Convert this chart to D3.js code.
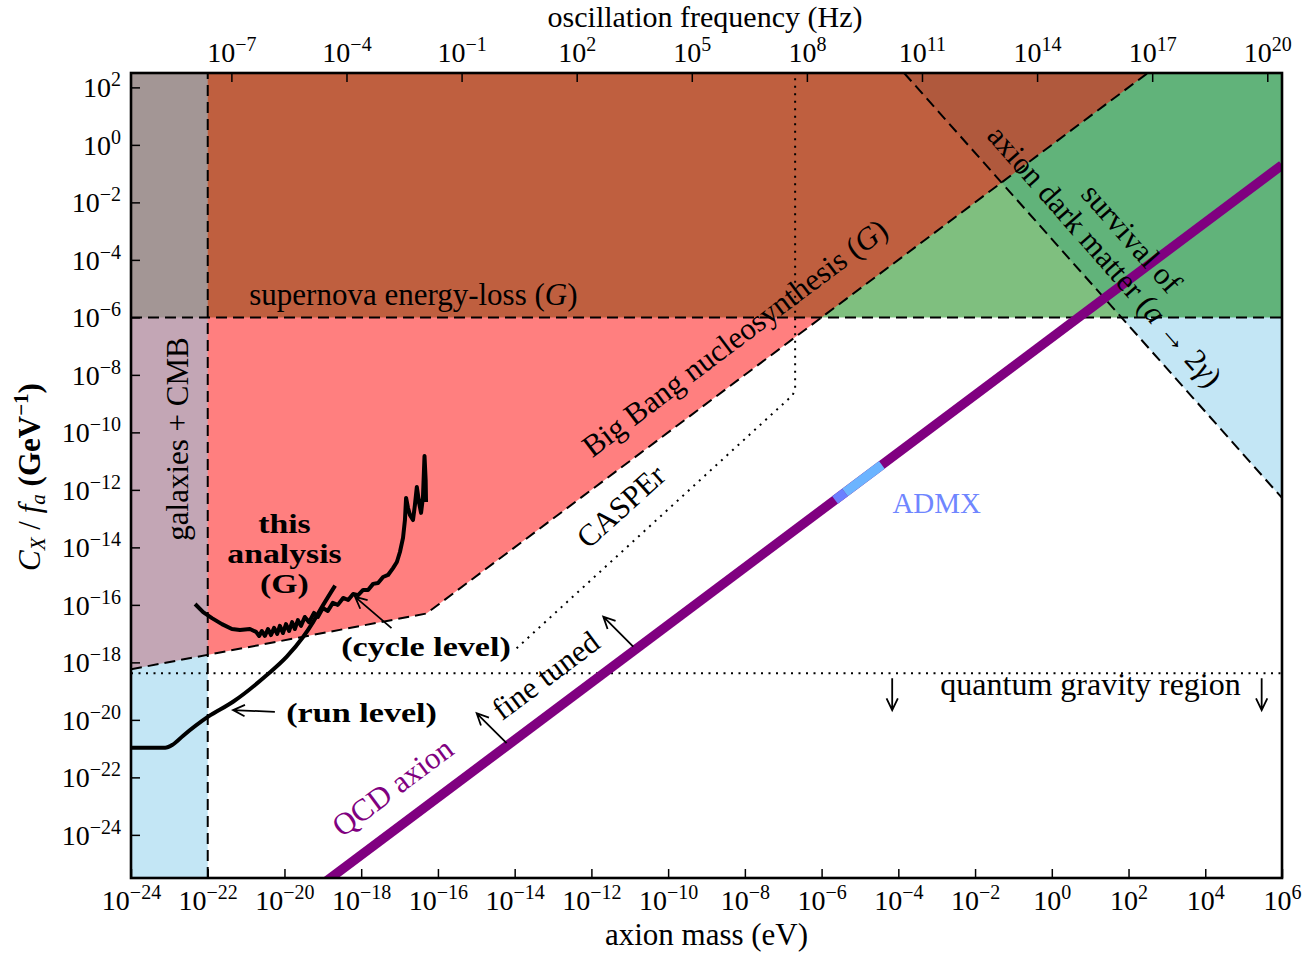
<!DOCTYPE html>
<html>
<head>
<meta charset="utf-8">
<script src="https://cdn.jsdelivr.net/npm/d3@7"></script>
<style>
  body { margin: 0; background: #fff; }
  text { font-family: "Liberation Serif", "Times New Roman", serif; fill: #000; }
</style>
</head>
<body>
<svg id="chart" width="1305" height="953"></svg>
<script>
// ---- axis ranges and ticks (all values are log10 exponents) ----
const massDomain = [-24, 6];          // axion mass, eV
const couplingDomain = [-25.5, 2.5];  // C_X / f_a, GeV^-1
const massTicks = d3.range(-24, 7, 2);
const couplingTicks = d3.range(2, -25, -2);
const freqTicks = d3.range(-7, 21, 3); // oscillation frequency, Hz
const logHzPerEv = 14.3835;            // log10(e/h)

// ---- excluded regions (polygons in log10 mass, log10 coupling) ----
const galaxiesCMB = [[-24, -25.5], [-22, -25.5], [-22, 2.5], [-24, 2.5]];
const supernovaRegion = [[-24, -6], [6, -6], [6, 2.5], [-24, 2.5]];
const bbnEdge = [[-24, -18.24], [-16.3, -16.3], [2.5, 2.5]];
const dmDecayEdge = [[-3.85, 2.5], [6, -12.28]];

// ---- reference lines ----
const supernovaBound = -6;
const galaxiesBound = -22;
const quantumGravity = -18.38;
const casperReach = [[-13.95, -17.51], [-6.75, -8.7], [-6.69, -8.45], [-6.69, 2.5]];
const qcdAxion = [[-24, -30.7], [6, -0.7]];
const admxExcluded = [-5.65, -5.39];
const admxProjected = [-5.39, -4.43];

// ---- limits from this analysis ----
const runLevel = [
  [-24, -20.97], [-23.11, -20.97], [-22.91, -20.86], [-22.64, -20.55], [-21.99, -19.89],
  [-21.34, -19.37], [-20.46, -18.44], [-19.94, -17.80], [-19.51, -17.11], [-19.25, -16.59],
  [-18.99, -16.00], [-18.68, -15.33]
];
const cycleLevel = [
  [-22.33, -15.97], [-22.12, -16.25], [-21.89, -16.46], [-21.63, -16.67], [-21.37, -16.84],
  [-21.16, -16.87], [-20.90, -16.84], [-20.74, -16.94], [-20.66, -17.08], [-20.59, -16.91],
  [-20.51, -17.08], [-20.43, -16.84], [-20.35, -17.05], [-20.27, -16.80], [-20.19, -17.01],
  [-20.12, -16.73], [-20.04, -16.98], [-19.96, -16.67], [-19.88, -16.91], [-19.80, -16.60],
  [-19.73, -16.84], [-19.65, -16.53], [-19.57, -16.73], [-19.47, -16.42], [-19.36, -16.60],
  [-19.23, -16.28], [-19.13, -16.42], [-19.00, -16.11], [-18.87, -16.21], [-18.74, -15.93],
  [-18.61, -16.00], [-18.47, -15.76], [-18.34, -15.83], [-18.21, -15.62], [-18.08, -15.66],
  [-17.95, -15.48], [-17.82, -15.48], [-17.69, -15.27], [-17.56, -15.24], [-17.43, -15.03],
  [-17.30, -14.96], [-17.17, -14.72], [-17.07, -14.51], [-16.99, -14.16], [-16.91, -13.67],
  [-16.86, -13.05], [-16.83, -12.28], [-16.78, -12.63], [-16.73, -12.87], [-16.65, -13.05],
  [-16.60, -12.53], [-16.55, -11.90], [-16.49, -12.46], [-16.44, -12.80], [-16.39, -12.25],
  [-16.35, -10.82], [-16.32, -11.66], [-16.31, -12.42]
];

// ---- layout ----
const svg = d3.select("#chart");
const plotL = 131, plotR = 1282, plotT = 73, plotB = 878;

const x = d3.scaleLog().domain(massDomain.map(e => 10 ** e)).range([plotL, plotR]);
const y = d3.scaleLog().domain(couplingDomain.map(e => 10 ** e)).range([plotB, plotT]);
const X = e => x(10 ** e);
const Y = e => y(10 ** e);
const line = d3.line().x(d => X(d[0])).y(d => Y(d[1]));

svg.append("defs").append("clipPath").attr("id", "plotArea")
  .append("rect").attr("x", plotL).attr("y", plotT)
  .attr("width", plotR - plotL).attr("height", plotB - plotT);
const plot = svg.append("g").attr("clip-path", "url(#plotArea)");

const sky = "rgba(135,206,235,0.5)";
const grn = "rgba(0,128,0,0.5)";
const red = "rgba(255,0,0,0.5)";

// filled regions, layered translucently
plot.append("path").attr("d", line(dmDecayEdge.concat([[6, 2.5]])) + "Z").attr("fill", sky);
plot.append("path").attr("d", line(supernovaRegion) + "Z").attr("fill", grn);
plot.append("path").attr("d", line(bbnEdge.concat([[-24, 2.5]])) + "Z").attr("fill", red);
plot.append("path").attr("d", line(galaxiesCMB) + "Z").attr("fill", sky);

// dashed region boundaries
const dashed = d => plot.append("path").attr("d", line(d)).attr("fill", "none")
  .attr("stroke", "#000").attr("stroke-width", 2).attr("stroke-dasharray", "11,6");
dashed([[massDomain[0], supernovaBound], [massDomain[1], supernovaBound]]);
dashed([[galaxiesBound, couplingDomain[0]], [galaxiesBound, couplingDomain[1]]]);
dashed(bbnEdge);
dashed(dmDecayEdge);

// dotted lines
const dotted = d => plot.append("path").attr("d", line(d)).attr("fill", "none")
  .attr("stroke", "#000").attr("stroke-width", 2).attr("stroke-dasharray", "2,5.5");
dotted([[massDomain[0], quantumGravity], [massDomain[1], quantumGravity]]);
dotted(casperReach);

// QCD axion band and ADMX segments
const qcdAt = m => qcdAxion[0][1] + (m - qcdAxion[0][0]) * (qcdAxion[1][1] - qcdAxion[0][1]) / (qcdAxion[1][0] - qcdAxion[0][0]);
plot.append("path").attr("d", line(qcdAxion)).attr("stroke", "#800080").attr("stroke-width", 9.5).attr("fill", "none");
plot.append("path").attr("d", line(admxExcluded.map(m => [m, qcdAt(m)])))
  .attr("stroke", "#6b80ff").attr("stroke-width", 9.5).attr("fill", "none");
plot.append("path").attr("d", line(admxProjected.map(m => [m, qcdAt(m)])))
  .attr("stroke", "#6cb4ff").attr("stroke-width", 9.5).attr("fill", "none");

// limit curves
const smooth = d3.line().x(d => X(d[0])).y(d => Y(d[1])).curve(d3.curveMonotoneX);
plot.append("path").attr("d", smooth(runLevel)).attr("fill", "none")
  .attr("stroke", "#000").attr("stroke-width", 4).attr("stroke-linejoin", "round");
plot.append("path").attr("d", line(cycleLevel)).attr("fill", "none")
  .attr("stroke", "#000").attr("stroke-width", 4).attr("stroke-linejoin", "round");

// annotation helper
function label(m, g, angle, parts, opts = {}) {
  const t = plot.append("text")
    .attr("transform", `translate(${X(m)},${Y(g)}) rotate(${angle})` + (opts.sx ? ` scale(${opts.sx},1)` : ""))
    .attr("text-anchor", opts.anchor || "middle")
    .style("font-size", (opts.size || 31) + "px");
  if (opts.bold) t.style("font-weight", "bold");
  if (opts.color) t.style("fill", opts.color);
  parts.forEach(p => {
    const s = t.append("tspan").text(p.t !== undefined ? p.t : p);
    if (p.i) s.style("font-style", "italic");
  });
  return t;
}

label(-16.64, -5.57, 0, ["supernova energy-loss (", { t: "G", i: true }, ")"]);
label(-22.51, -10.23, -90, ["galaxies + CMB"]);
label(-8.10, -7.00, -37, ["Big Bang nucleosynthesis (", { t: "G", i: true }, ")"]);
label(-11.05, -12.84, -42, ["CASPEr"]);
label(1.88, -3.48, 48.6, ["survival of"]);
label(1.18, -4.11, 48.6, ["axion dark matter (", { t: "a", i: true }, " → 2", { t: "γ", i: true }, ")"]);
label(-3.0, -12.80, 0, ["ADMX"], { color: "#6f86ff", size: 29 });
label(-17.02, -22.63, -36.8, ["QCD axion"], { color: "#800080" });
label(-13.03, -18.75, -36.8, ["fine tuned"]);
label(1.01, -19.13, 0, ["quantum gravity region"], { size: 32 });
label(-16.31, -17.78, 0, ["(cycle level)"], { bold: true, size: 28, sx: 1.22 });
label(-17.99, -20.06, 0, ["(run level)"], { bold: true, size: 28, sx: 1.22 });

// three-line bold caption for the new limit
const caption = plot.append("text")
  .attr("transform", `translate(${X(-20.0)},${Y(-13.5)}) scale(1.25,1)`)
  .attr("text-anchor", "middle").style("font-size", "27px").style("font-weight", "bold");
["this", "analysis", "(G)"].forEach((s, i) =>
  caption.append("tspan").attr("x", 0).attr("dy", i === 0 ? 0 : 30).text(s));

// open-headed arrows
function arrow(p0, p1) {
  const x0 = X(p0[0]), y0 = Y(p0[1]), x1 = X(p1[0]), y1 = Y(p1[1]);
  const a = Math.atan2(y1 - y0, x1 - x0), L = 13, s = 0.45;
  const d = `M${x0},${y0}L${x1},${y1}` +
    `M${x1 - L * Math.cos(a - s)},${y1 - L * Math.sin(a - s)}L${x1},${y1}` +
    `L${x1 - L * Math.cos(a + s)},${y1 - L * Math.sin(a + s)}`;
  plot.append("path").attr("d", d).attr("fill", "none").attr("stroke", "#000").attr("stroke-width", 1.8);
}
arrow([-17.21, -16.81], [-18.16, -15.72]);
arrow([-20.25, -19.72], [-21.34, -19.66]);
arrow([-14.21, -20.81], [-14.99, -19.77]);
arrow([-10.91, -17.45], [-11.69, -16.41]);
arrow([-4.16, -18.55], [-4.16, -19.66]);
arrow([5.47, -18.55], [5.47, -19.66]);

// ---- axes ----
function powLabel(sel, e) {
  sel.text(null);
  sel.append("tspan").text("10");
  sel.append("tspan").attr("dy", -11).style("font-size", "20px")
    .text(e < 0 ? "\u2212" + (-e) : String(e));
}

function styleAxis(g) {
  g.select(".domain").remove();
  g.selectAll(".tick line").attr("stroke", "#000").attr("stroke-width", 1.5);
  g.selectAll(".tick text").style("font-size", "28px").attr("dy", null)
    .style("font-family", '"Liberation Serif", serif').attr("fill", "#000");
}

const bottomAxis = svg.append("g").attr("transform", `translate(0,${plotB})`)
  .call(d3.axisBottom(x).tickValues(massTicks.map(e => 10 ** e)).tickSizeInner(-9).tickSizeOuter(0).tickFormat(""));
styleAxis(bottomAxis);
bottomAxis.selectAll(".tick text").attr("y", 32).each(function (d, i) { powLabel(d3.select(this), massTicks[i]); });

const leftAxis = svg.append("g").attr("transform", `translate(${plotL},0)`)
  .call(d3.axisLeft(y).tickValues(couplingTicks.map(e => 10 ** e)).tickSizeInner(-9).tickSizeOuter(0).tickFormat(""));
styleAxis(leftAxis);
leftAxis.selectAll(".tick text").attr("x", -10).attr("y", 9.5).attr("text-anchor", "end")
  .each(function (d, i) { powLabel(d3.select(this), couplingTicks[i]); });

const freqScale = d3.scaleLog()
  .domain(massDomain.map(e => 10 ** (e + logHzPerEv)))
  .range([plotL, plotR]);
const topAxis = svg.append("g").attr("transform", `translate(0,${plotT})`)
  .call(d3.axisTop(freqScale).tickValues(freqTicks.map(e => 10 ** e)).tickSizeInner(-9).tickSizeOuter(0).tickFormat(""));
styleAxis(topAxis);
topAxis.selectAll(".tick text").attr("y", -11).each(function (d, i) { powLabel(d3.select(this), freqTicks[i]); });

// frame
svg.append("rect").attr("x", plotL).attr("y", plotT).attr("width", plotR - plotL).attr("height", plotB - plotT)
  .attr("fill", "none").attr("stroke", "#000").attr("stroke-width", 2.6);

// axis titles
svg.append("text").attr("x", (plotL + plotR) / 2).attr("y", 945).attr("text-anchor", "middle")
  .style("font-size", "31px").text("axion mass (eV)");
svg.append("text").attr("x", 705).attr("y", 27).attr("text-anchor", "middle")
  .style("font-size", "30px").text("oscillation frequency (Hz)");

const yl = svg.append("text").attr("transform", "translate(40,477) rotate(-90)")
  .attr("text-anchor", "middle").style("font-size", "31px");
yl.append("tspan").style("font-style", "italic").text("C");
yl.append("tspan").style("font-style", "italic").style("font-size", "21px").attr("dy", 5).text("X");
yl.append("tspan").attr("dy", -5).text(" / ");
yl.append("tspan").style("font-style", "italic").text("f");
yl.append("tspan").style("font-style", "italic").style("font-size", "21px").attr("dy", 5).text("a");
yl.append("tspan").attr("dy", -5).style("font-weight", "bold").text(" (GeV");
yl.append("tspan").style("font-weight", "bold").style("font-size", "21px").attr("dy", -12).text("\u22121");
yl.append("tspan").style("font-weight", "bold").attr("dy", 12).text(")");
</script>
</body>
</html>
